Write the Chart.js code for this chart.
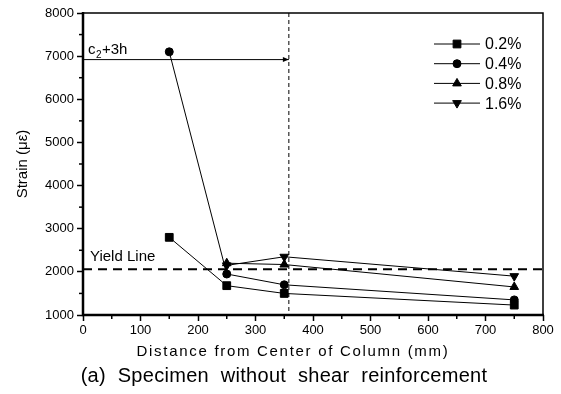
<!DOCTYPE html>
<html>
<head>
<meta charset="utf-8">
<script src="https://cdn.jsdelivr.net/npm/chart.js@4"></script>
<style>
  html,body{margin:0;padding:0;background:#fff;}
  #wrap{width:561px;height:394px;}
</style>
</head>
<body>
<div id="wrap"><canvas id="strainChart" width="561" height="394"></canvas></div>
<script>
// distances (mm) and strains (micro-strain)
const seriesNames=['0.2%','0.4%','0.8%','1.6%'];
const distA=[150,250,350,750];
const distB=[250,350,750];
const strain02=[2800,1680,1500,1230];
const strain04=[7100,1950,1700,1350];
const strain08=[2200,2170,1650];
const strain16=[2150,2350,1900];
const markers=['rect','circle','triangle','triangle'];
const rotations=[0,0,0,180];
const markerSizes=[5.5,4,5,5];
const yieldStrain=2060;
const limitDist=358;
const arrowStrain=6920;

const pts=(xs,ys)=>xs.map((x,i)=>({x:x,y:ys[i]}));
const seriesData=[pts(distA,strain02),pts(distA,strain04),pts(distB,strain08),pts(distB,strain16)];

const FONT='"Liberation Sans", Arial, sans-serif';

const extras={
    id:'extras',
    afterDatasetsDraw(chart){
        const ctx=chart.ctx;
        const xs=chart.scales.x, ys=chart.scales.y;
        const a=chart.chartArea;
        ctx.save();
        // yield line
        let yy=ys.getPixelForValue(yieldStrain);
        ctx.strokeStyle='#000';
        ctx.lineWidth=2;
        ctx.setLineDash([9,6]);
        ctx.beginPath();ctx.moveTo(a.left,yy);ctx.lineTo(a.right,yy);ctx.stroke();
        // vertical limit
        let vx=xs.getPixelForValue(limitDist);
        ctx.lineWidth=1;
        ctx.setLineDash([4,3]);
        ctx.beginPath();ctx.moveTo(vx,a.top);ctx.lineTo(vx,a.bottom);ctx.stroke();
        ctx.setLineDash([]);
        // arrow
        let ay=ys.getPixelForValue(arrowStrain);
        ctx.beginPath();ctx.moveTo(a.left,ay);ctx.lineTo(vx,ay);ctx.stroke();
        ctx.beginPath();ctx.moveTo(vx,ay);ctx.lineTo(vx-6,ay-2.5);ctx.lineTo(vx-6,ay+2.5);ctx.closePath();ctx.fill();
        // labels
        ctx.fillStyle='#000';
        ctx.font='15px '+FONT;
        ctx.textBaseline='alphabetic';
        ctx.textAlign='left';
        ctx.fillText('c',88,ay-6);
        ctx.font='10px '+FONT;
        ctx.fillText('2',96,ay-2);
        ctx.font='15px '+FONT;
        ctx.fillText('+3h',102,ay-6);
        ctx.fillText('Yield Line',90,yy-8);
        // frame
        ctx.lineWidth=1.5;
        ctx.beginPath();ctx.moveTo(a.left,a.top);ctx.lineTo(a.right,a.top);ctx.lineTo(a.right,a.bottom);ctx.stroke();
        ctx.lineWidth=2.5;
        ctx.beginPath();ctx.moveTo(a.left,a.top-1);ctx.lineTo(a.left,a.bottom);ctx.lineTo(a.right+1,a.bottom);ctx.stroke();
        // minor ticks
        ctx.lineWidth=1.5;
        for(let v=50;v<800;v+=100){
            let px=xs.getPixelForValue(v);
            ctx.beginPath();ctx.moveTo(px,a.bottom);ctx.lineTo(px,a.bottom+4);ctx.stroke();
        }
        for(let v=1500;v<8000;v+=1000){
            let py=ys.getPixelForValue(v);
            ctx.beginPath();ctx.moveTo(a.left,py);ctx.lineTo(a.left-4,py);ctx.stroke();
        }
        // legend
        ctx.font='16px '+FONT;
        ctx.textBaseline='middle';
        chart.data.datasets.forEach((ds,i)=>{
            let ly=44+i*19.7;
            ctx.lineWidth=1;
            ctx.beginPath();ctx.moveTo(434,ly);ctx.lineTo(480,ly);ctx.stroke();
            Chart.helpers.drawPoint(ctx,{pointStyle:markers[i],radius:markerSizes[i],rotation:rotations[i],borderWidth:1},457,ly);
            ctx.fillText(ds.label,485,ly+1);
        });
        // axis titles
        ctx.textAlign='center';
        ctx.textBaseline='alphabetic';
        ctx.font='15px '+FONT;
        ctx.letterSpacing='1.7px';
        ctx.fillText('Distance from Center of Column (mm)',293,356);
        ctx.font='20px '+FONT;
        ctx.letterSpacing='0.3px';
        ctx.fillText('(a)  Specimen  without  shear  reinforcement',284,382);
        ctx.letterSpacing='0px';
        ctx.save();
        ctx.translate(27,164);
        ctx.rotate(-Math.PI/2);
        ctx.font='15px '+FONT;
        ctx.fillText('Strain (\u03bc\u03b5)',0,0);
        ctx.restore();
        ctx.restore();
    }
};

const ctx=document.getElementById('strainChart').getContext('2d');
const myChart=new Chart(ctx,{
    type:'scatter',
    data:{
        datasets:seriesData.map((d,i)=>({
            label:seriesNames[i],
            data:d,
            showLine:true,
            borderColor:'#000',
            backgroundColor:'#000',
            borderWidth:1,
            pointStyle:markers[i],
            rotation:rotations[i],
            pointRadius:markerSizes[i],
            pointBorderWidth:1
        }))
    },
    plugins:[extras],
    options:{
        responsive:false,
        animation:false,
        layout:{padding:{top:13,right:18,left:0,bottom:0}},
        plugins:{legend:{display:false},tooltip:{enabled:false}},
        scales:{
            x:{
                type:'linear',min:0,max:800,
                afterFit:s=>{s.height=79;},
                border:{display:false},
                grid:{drawOnChartArea:false,tickLength:6,tickWidth:1.5,tickColor:'#000'},
                ticks:{stepSize:100,color:'#000',font:{size:13,family:FONT},padding:2,maxRotation:0,callback:v=>String(v)}
            },
            y:{
                type:'linear',min:1000,max:8000,
                afterFit:s=>{s.width=83;},
                border:{display:false},
                grid:{drawOnChartArea:false,tickLength:6,tickWidth:1.5,tickColor:'#000'},
                ticks:{stepSize:1000,color:'#000',font:{size:13,family:FONT},padding:3,callback:v=>String(v)}
            }
        }
    }
});
</script>
</body>
</html>
